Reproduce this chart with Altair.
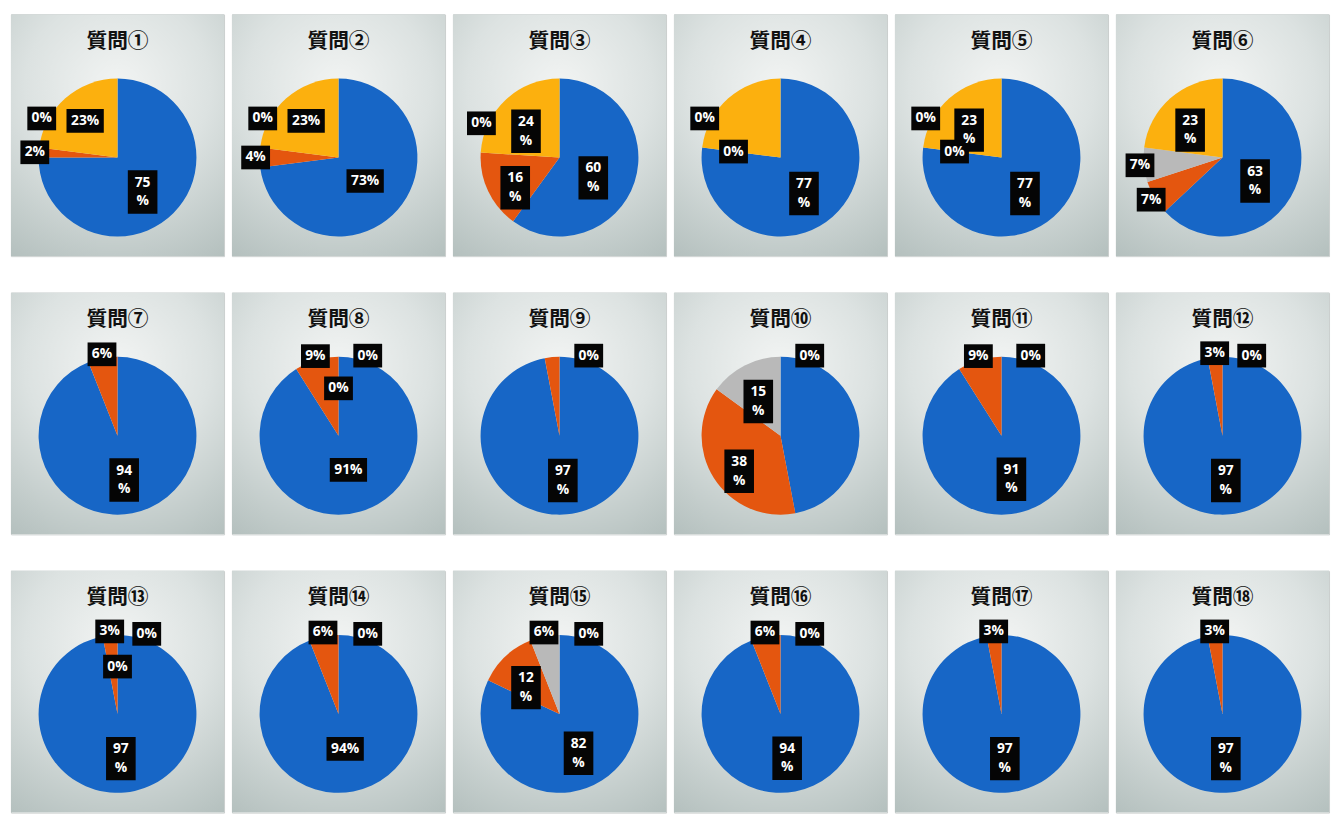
import altair as alt
import pandas as pd

questions = ["質問①", "質問②", "質問③", "質問④", "質問⑤", "質問⑥",
             "質問⑦", "質問⑧", "質問⑨", "質問⑩", "質問⑪", "質問⑫",
             "質問⑬", "質問⑭", "質問⑮", "質問⑯", "質問⑰", "質問⑱"]
categories = ["系列1", "系列2", "系列3", "系列4"]
blue_pct = [75, 73, 60, 77, 77, 63, 94, 91, 97, 47, 91, 97, 97, 94, 82, 94, 97, 97]
orange_pct = [2, 4, 16, 0, 0, 7, 6, 9, 3, 38, 9, 3, 3, 6, 12, 6, 3, 3]
gray_pct = [0, 0, 0, 0, 0, 7, None, 0, 0, 15, 0, 0, 0, 0, 6, 0, None, None]
yellow_pct = [23, 23, 24, 23, 23, 23, None, 0, None, 0, None, None, 0, None, 0, None, None, None]

# label styling (which labels are hidden / kept on one line)
hidden_labels = {("質問④", "系列4"), ("質問⑨", "系列2"), ("質問⑩", "系列1")}
single_line = {("質問①", "系列4"), ("質問②", "系列1"), ("質問②", "系列4"),
               ("質問⑧", "系列1"), ("質問⑭", "系列1")}

colors = ["#1766c6", "#e4560f", "#b9b9b9", "#fcb00e"]

rows = []
for qi, q in enumerate(questions):
    for ci, (cat, series) in enumerate(zip(categories, [blue_pct, orange_pct, gray_pct, yellow_pct])):
        v = series[qi]
        if v is None:
            continue
        if v >= 10 and (q, cat) not in single_line:
            txt = f"{v}\n%"
        else:
            txt = f"{v}%"
        rows.append({"q": q, "cat": cat, "idx": ci, "value": v, "label": txt,
                     "show": (q, cat) not in hidden_labels})
df = pd.DataFrame(rows)

W, H = 216, 245
R = 80
CX, CY = 108, 145
LH = 19
xs = alt.Scale(domain=[-CX / R, (W - CX) / R], nice=False, zero=False)
ys = alt.Scale(domain=[-(H - CY) / R, CY / R], nice=False, zero=False)
color_scale = alt.Scale(domain=categories, range=colors)

bg_grad = alt.Gradient(
    gradient="radial",
    stops=[alt.GradientStop(color="#f2f4f3", offset=0),
           alt.GradientStop(color="#dce2e1", offset=0.45),
           alt.GradientStop(color="#b2bebc", offset=1)],
    x1=0.5, y1=0.3, r1=0, x2=0.5, y2=0.3, r2=0.85,
)


def panel(q):
    dummy = alt.Data(values=[{"q": q}])
    bg = alt.Chart(dummy).mark_rect(fill=bg_grad).encode(
        x=alt.value(0), x2=alt.value(W), y=alt.value(0), y2=alt.value(H))
    title = alt.Chart(dummy).mark_text(
        font="Noto Sans CJK JP", fontWeight="bold", fontSize=21, color="#111"
    ).encode(text="q:N", x=alt.value(W / 2), y=alt.value(28))

    base = alt.Chart(df).transform_filter(alt.datum.q == q)
    pie = base.mark_arc(radius=R).encode(
        theta=alt.Theta("value:Q", stack=True),
        color=alt.Color("cat:N", scale=color_scale, legend=None),
        order=alt.Order("idx:Q"),
        x=alt.XDatum(0, type="quantitative", scale=xs, axis=None),
        y=alt.YDatum(0, type="quantitative", scale=ys, axis=None),
    )

    lab = base.transform_window(
        cum="sum(value)", sort=[alt.SortField("idx")], frame=[None, 0]
    ).transform_calculate(
        isz="datum.value == 0 ? 1 : 0"
    ).transform_window(
        zr="sum(isz)", sort=[alt.SortField("idx")], frame=[None, 0]
    ).transform_joinaggregate(
        total="sum(value)"
    ).transform_filter(
        alt.datum.show
    ).transform_calculate(
        mid="2*PI*(datum.cum - datum.value/2)/datum.total",
        ang="datum.value == 0 ? (datum.zr == 1 ? datum.mid + 0.35 : datum.mid) : datum.mid",
        r="datum.value >= 50 ? 0.45 : (datum.value >= 10 ? 0.62 : (datum.value == 0 ? (datum.zr == 1 ? 1.08 : 0.6) : 1.05))",
        lx="datum.r * sin(datum.ang)",
        ly="datum.r * cos(datum.ang)",
        two="indexof(datum.label, '\\n') >= 0",
        by=f"datum.two ? datum.ly - {LH / 2 / R} : datum.ly",
        bw="datum.two ? 30 : 8.6 * length(datum.label) + 12",
        bh="datum.two ? 44 : 24",
        bm="max(datum.bw, datum.bh)",
        ba="datum.bw / datum.bm",
        bb="datum.bh / datum.bm",
        shp="'M' + (-datum.ba) + ',' + (-datum.bb) + 'L' + datum.ba + ',' + (-datum.bb) + 'L' + datum.ba + ',' + datum.bb + 'L' + (-datum.ba) + ',' + datum.bb + 'Z'",
        sz="datum.bm * datum.bm",
    )
    xenc = alt.X("lx:Q", scale=xs, axis=None)
    boxes = lab.mark_point(filled=True, color="#050505", opacity=1, strokeWidth=0).encode(
        x=xenc, y=alt.Y("by:Q", scale=ys, axis=None),
        shape=alt.Shape("shp:N", scale=None, legend=None),
        size=alt.Size("sz:Q", scale=None, legend=None),
    )
    texts = lab.mark_text(
        color="white", fontWeight="bold", fontSize=14, font="Open Sans",
        lineBreak="\n", lineHeight=LH, align="center", baseline="middle"
    ).encode(x=xenc, y=alt.Y("ly:Q", scale=ys, axis=None), text="label:N")

    return alt.layer(bg, title, pie, boxes, texts).properties(width=W, height=H)


panels = [panel(q) for q in questions]
rows_charts = [alt.hconcat(*panels[i * 6:(i + 1) * 6], spacing=6) for i in range(3)]
chart = alt.vconcat(*rows_charts, spacing=35).properties(
    padding={"left": 2, "top": 0, "right": 2, "bottom": 2}
).configure_view(stroke="#c9cdcc", strokeWidth=1)

chart.save("out.html", embed_options={"renderer": "svg", "actions": False})
